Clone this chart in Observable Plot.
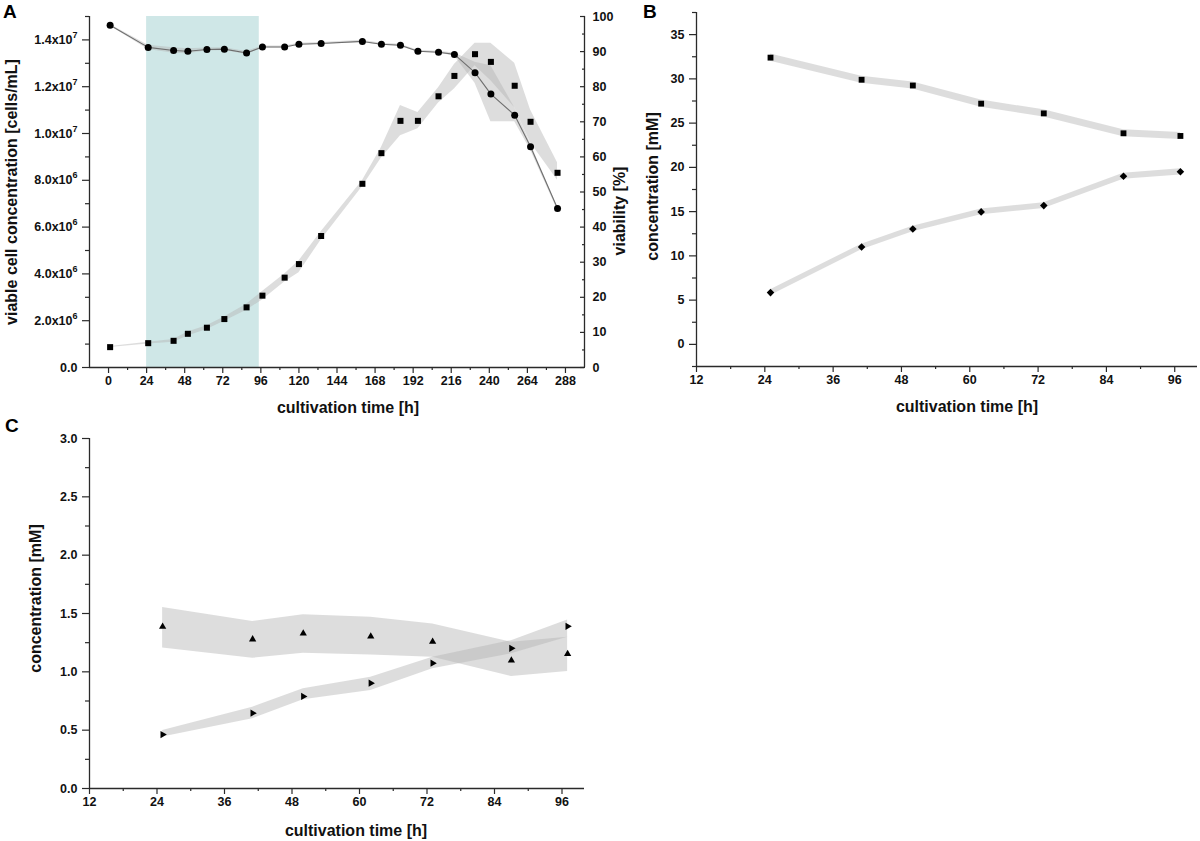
<!DOCTYPE html>
<html><head><meta charset="utf-8">
<script src="https://cdn.jsdelivr.net/npm/d3@7"></script>
<script src="https://cdn.jsdelivr.net/npm/@observablehq/plot@0.6"></script>
<style>
body{margin:0;background:#fff;}
#root{position:relative;width:1200px;height:841px;overflow:hidden;background:#fff;font-family:"Liberation Sans",Arial,sans-serif;}
.panel{position:absolute;}
.letter{position:absolute;font-weight:bold;font-size:19px;line-height:19px;color:#000;}
</style></head><body><div id="root"></div>
<script>
// ---------- Panel A : cell growth & viability ----------
const timeA      = [1, 25, 41, 50, 62, 73, 87, 97, 111, 120, 134, 160, 172, 184, 195, 208, 218, 231, 241, 256, 266, 283];
const cellsA     = [0.87, 1.04, 1.14, 1.44, 1.70, 2.07, 2.57, 3.07, 3.84, 4.42, 5.62, 7.85, 9.16, 10.54, 10.54, 11.59, 12.46, 13.39, 13.06, 12.04, 10.50, 8.32]; // x10^6 cells/mL
const cellsLowA  = [0.85, 1.00, 1.08, 1.35, 1.62, 1.98, 2.45, 2.88, 3.65, 4.05, 5.45, 7.72, 8.95, 9.90, 10.20, 11.30, 11.90, 12.90, 12.25, 11.10, 9.60, 8.00];
const cellsHighA = [0.90, 1.08, 1.20, 1.52, 1.78, 2.16, 2.70, 3.25, 4.00, 4.55, 5.80, 7.98, 9.40, 11.20, 10.90, 11.95, 12.95, 13.86, 13.86, 13.00, 11.00, 8.75];
const viabA      = [97.5, 91.2, 90.3, 90.1, 90.6, 90.7, 89.6, 91.3, 91.3, 92.1, 92.3, 92.9, 92.1, 91.8, 90.1, 89.8, 89.2, 84.0, 77.9, 71.9, 62.9, 45.3]; // %
const viabLowA   = [97.3, 90.6, 89.5, 89.4, 90.2, 90.3, 89.2, 91.0, 91.0, 91.8, 92.0, 92.6, 91.8, 91.5, 89.8, 89.5, 88.8, 81.0, 70.0, 70.0, 62.0, 44.8];
const viabHighA  = [97.7, 91.8, 91.1, 90.8, 91.0, 91.1, 90.0, 91.6, 91.6, 92.4, 92.6, 93.2, 92.4, 92.1, 90.4, 90.1, 89.6, 87.0, 86.0, 74.0, 63.8, 45.8];
const shadeA     = [24, 95]; // highlighted phase (h)

const xTicksA      = [0, 24, 48, 72, 96, 120, 144, 168, 192, 216, 240, 264, 288];
const xMinorA      = [12, 36, 60, 84, 108, 132, 156, 180, 204, 228, 252, 276];
const yTicksA      = [0, 2e6, 4e6, 6e6, 8e6, 1e7, 1.2e7, 1.4e7];
const yMinorA      = [1e6, 3e6, 5e6, 7e6, 9e6, 1.1e7, 1.3e7, 1.5e7];
const vTicksA      = [0, 10, 20, 30, 40, 50, 60, 70, 80, 90, 100];
const vMinorA      = [5, 15, 25, 35, 45, 55, 65, 75, 85, 95];

// ---------- Panel B : concentrations (mM) ----------
const timeBC     = [25, 41, 50, 62, 73, 87, 97];
const squaresB   = [32.4, 29.9, 29.25, 27.2, 26.1, 23.85, 23.55];
const squaresSdB = [0.4, 0.4, 0.4, 0.4, 0.4, 0.4, 0.4];
const diamondsB  = [5.85, 11.0, 13.04, 14.97, 15.68, 19.0, 19.5];
const diamondsSdB= [0.32, 0.32, 0.32, 0.32, 0.32, 0.35, 0.35];
const xTicksBC   = [12, 24, 36, 48, 60, 72, 84, 96];
const xMinorBC   = [18, 30, 42, 54, 66, 78, 90];
const yTicksB    = [0, 5, 10, 15, 20, 25, 30, 35];
const yMinorB    = [-2.5, 2.5, 7.5, 12.5, 17.5, 22.5, 27.5, 32.5, 37.5];

// ---------- Panel C : concentrations (mM) ----------
const upC        = [1.387, 1.279, 1.33, 1.304, 1.259, 1.097, 1.154];
const upLowC     = [1.205, 1.116, 1.159, 1.145, 1.125, 0.96, 1.003];
const upHighC    = [1.552, 1.432, 1.49, 1.467, 1.41, 1.253, 1.296];
const rightC     = [0.462, 0.646, 0.789, 0.903, 1.074, 1.202, 1.39];
const rightLowC  = [0.441, 0.598, 0.76, 0.84, 1.026, 1.154, 1.296];
const rightHighC = [0.498, 0.697, 0.855, 0.954, 1.125, 1.267, 1.444];
const yTicksC    = [0, 0.5, 1.0, 1.5, 2.0, 2.5, 3.0];
const yMinorC    = [0.25, 0.75, 1.25, 1.75, 2.25, 2.75];

const xLabel = "cultivation time [h]";
const yLabelA = "viable cell concentration [cells/mL]";
const yLabelA2 = "viability [%]";
const yLabelBC = "concentration [mM]";

// ---------- helpers ----------
const vScale = 1.5e7 / 100; // right axis of A: 100 % <-> 1.5x10^7 cells/mL
const AX = "#2a2a2a";
const BAND = "#b4b4b4", BANDOP = 0.45;
const baseStyle = {fontFamily: '"Liberation Sans", Arial, sans-serif', fontWeight: "bold", fontSize: "12.5px", background: "transparent", overflow: "visible", color: "#111"};
const sci = d => {
  if (d === 0) return "0.0";
  const e = Math.floor(Math.log10(d) + 1e-9);
  return (d / 10 ** e).toFixed(1) + "x10^" + e;
};
const title = (t, o) => Plot.text([t], {text: d => d, fontSize: 16, fontWeight: "bold", fill: "#111", textAnchor: "middle", lineAnchor: "middle", ...o});
const majorX = (ticks) => Plot.axisX(ticks, {tickSize: 6, tickPadding: 3, stroke: AX, strokeWidth: 1.2, label: null});
const minorX = (ticks) => Plot.axisX(ticks, {tickSize: 3, fill: "none", stroke: AX, strokeWidth: 1.2, label: null});
const majorY = (ticks, o = {}) => Plot.axisY(ticks, {tickSize: 7, tickPadding: 5, stroke: AX, strokeWidth: 1.2, label: null, ...o});
const minorY = (ticks, o = {}) => Plot.axisY(ticks, {tickSize: 4, fill: "none", stroke: AX, strokeWidth: 1.2, label: null, ...o});

const root = document.getElementById("root");
function place(el, left, top) {
  const d = document.createElement("div");
  d.className = "panel"; d.style.left = left + "px"; d.style.top = top + "px";
  d.appendChild(el); root.appendChild(d);
}
function letter(t, left, top) {
  const d = document.createElement("div");
  d.className = "letter"; d.textContent = t; d.style.left = left + "px"; d.style.top = top + "px";
  root.appendChild(d);
}

// ---------- Panel A ----------
const tableA = timeA.map((t, i) => ({
  t, cells: cellsA[i] * 1e6, cLo: cellsLowA[i] * 1e6, cHi: cellsHighA[i] * 1e6,
  v: viabA[i] * vScale, vLo: viabLowA[i] * vScale, vHi: viabHighA[i] * vScale
}));
const xDomA = [-12, 300], yDomA = [0, 1.5e7];
const plotA = Plot.plot({
  width: 640, height: 420,
  marginLeft: 89, marginRight: 56, marginTop: 16, marginBottom: 53,
  style: baseStyle,
  x: {domain: xDomA},
  y: {domain: yDomA},
  marks: [
    Plot.rect([shadeA], {x1: d => d[0], x2: d => d[1], fill: "#cfe7e7"}),
    Plot.areaY(tableA, {x: "t", y1: "cLo", y2: "cHi", fill: BAND, fillOpacity: BANDOP}),
    Plot.areaY(tableA, {x: "t", y1: "vLo", y2: "vHi", fill: BAND, fillOpacity: BANDOP}),
    Plot.line(tableA, {x: "t", y: "v", stroke: "#6e6e6e", strokeWidth: 1.1}),
    Plot.dot(tableA, {x: "t", y: "cells", symbol: "square", fill: "#000", r: 3.4}),
    Plot.dot(tableA, {x: "t", y: "v", symbol: "circle", fill: "#000", r: 3.5}),
    Plot.ruleX([xDomA[0]], {stroke: AX, strokeWidth: 1.3}),
    Plot.ruleX([xDomA[1]], {stroke: AX, strokeWidth: 1.3}),
    Plot.ruleY([yDomA[0]], {stroke: AX, strokeWidth: 1.3}),
    majorX(xTicksA), minorX(xMinorA),
    majorY(yTicksA, {tickFormat: sci}), minorY(yMinorA),
    Plot.axisY(vTicksA.map(v => v * vScale), {anchor: "right", tickSize: 5, insetRight: 5, fill: "none", stroke: AX, strokeWidth: 1.2, label: null}),
    Plot.axisY(vMinorA.map(v => v * vScale), {anchor: "right", tickSize: 3, insetRight: 3, fill: "none", stroke: AX, strokeWidth: 1.2, label: null}),
    Plot.axisY(vTicksA.map(v => v * vScale), {anchor: "right", tickSize: 0, tickPadding: 8, tickFormat: d => Math.round(d / vScale), label: null}),
    title(xLabel, {frameAnchor: "bottom", dx: 11, dy: 40}),
    title(yLabelA, {frameAnchor: "left", rotate: -90, dx: -78, dy: 0}),
    title(yLabelA2, {frameAnchor: "right", rotate: -90, dx: 35, dy: 19})
  ]
});
// superscript exponents on the left tick labels
plotA.querySelectorAll('g[aria-label="y-axis tick label"] text').forEach(t => {
  const s = t.textContent, i = s.indexOf("^");
  if (i < 0) return;
  t.textContent = s.slice(0, i);
  const sup = document.createElementNS("http://www.w3.org/2000/svg", "tspan");
  sup.setAttribute("dy", "-6"); sup.setAttribute("font-size", "9px");
  sup.textContent = s.slice(i + 1);
  t.appendChild(sup);
});
place(plotA, 0, 0);

// ---------- Panel B ----------
const tableB = timeBC.map((t, i) => ({
  t, sq: squaresB[i], sqLo: squaresB[i] - squaresSdB[i], sqHi: squaresB[i] + squaresSdB[i],
  di: diamondsB[i], diLo: diamondsB[i] - diamondsSdB[i], diHi: diamondsB[i] + diamondsSdB[i]
}));
const xDomBC = [12, 100], yDomB = [-2.5, 37.5];
const plotB = Plot.plot({
  width: 600, height: 420,
  marginLeft: 96, marginRight: 3, marginTop: 12, marginBottom: 54,
  style: baseStyle,
  x: {domain: xDomBC},
  y: {domain: yDomB},
  marks: [
    Plot.areaY(tableB, {x: "t", y1: "sqLo", y2: "sqHi", fill: BAND, fillOpacity: BANDOP}),
    Plot.areaY(tableB, {x: "t", y1: "diLo", y2: "diHi", fill: BAND, fillOpacity: BANDOP}),
    Plot.dot(tableB, {x: "t", y: "sq", symbol: "square", fill: "#000", r: 3.3}),
    Plot.dot(tableB, {x: "t", y: "di", symbol: "diamond2", fill: "#000", stroke: "none", r: 3.4}),
    Plot.ruleX([xDomBC[0]], {stroke: AX, strokeWidth: 1.3}),
    Plot.ruleY([yDomB[0]], {stroke: AX, strokeWidth: 1.3}),
    majorX(xTicksBC), minorX(xMinorBC),
    majorY(yTicksB), minorY(yMinorB),
    title(xLabel, {frameAnchor: "bottom", dx: 20, dy: 40}),
    title(yLabelBC, {frameAnchor: "left", rotate: -90, dx: -44, dy: -3})
  ]
});
place(plotB, 600, 0);

// ---------- Panel C ----------
const tableC = timeBC.map((t, i) => ({
  t, up: upC[i], upLo: upLowC[i], upHi: upHighC[i],
  rt: rightC[i], rtLo: rightLowC[i], rtHi: rightHighC[i]
}));
const yDomC = [0, 3];
const plotC = Plot.plot({
  width: 600, height: 421,
  marginLeft: 89, marginRight: 16, marginTop: 18, marginBottom: 53,
  style: baseStyle,
  x: {domain: xDomBC},
  y: {domain: yDomC},
  marks: [
    Plot.areaY(tableC, {x: "t", y1: "upLo", y2: "upHi", fill: BAND, fillOpacity: BANDOP}),
    Plot.areaY(tableC, {x: "t", y1: "rtLo", y2: "rtHi", fill: BAND, fillOpacity: BANDOP}),
    Plot.dot(tableC, {x: "t", y: "up", symbol: "triangle", fill: "#000", stroke: "none", r: 2.7}),
    Plot.dot(tableC, {x: "t", y: "rt", symbol: "triangle", rotate: 90, fill: "#000", stroke: "none", r: 2.7}),
    Plot.ruleX([xDomBC[0]], {stroke: AX, strokeWidth: 1.3}),
    Plot.ruleY([yDomC[0]], {stroke: AX, strokeWidth: 1.3}),
    majorX(xTicksBC), minorX(xMinorBC),
    majorY(yTicksC, {tickFormat: d => d.toFixed(1)}), minorY(yMinorC),
    title(xLabel, {frameAnchor: "bottom", dx: 19, dy: 42}),
    title(yLabelBC, {frameAnchor: "left", rotate: -90, dx: -54, dy: -15})
  ]
});
place(plotC, 0, 420);

letter("A", 3, 2);
letter("B", 643, 2);
letter("C", 5, 416);
</script>
</body></html>
